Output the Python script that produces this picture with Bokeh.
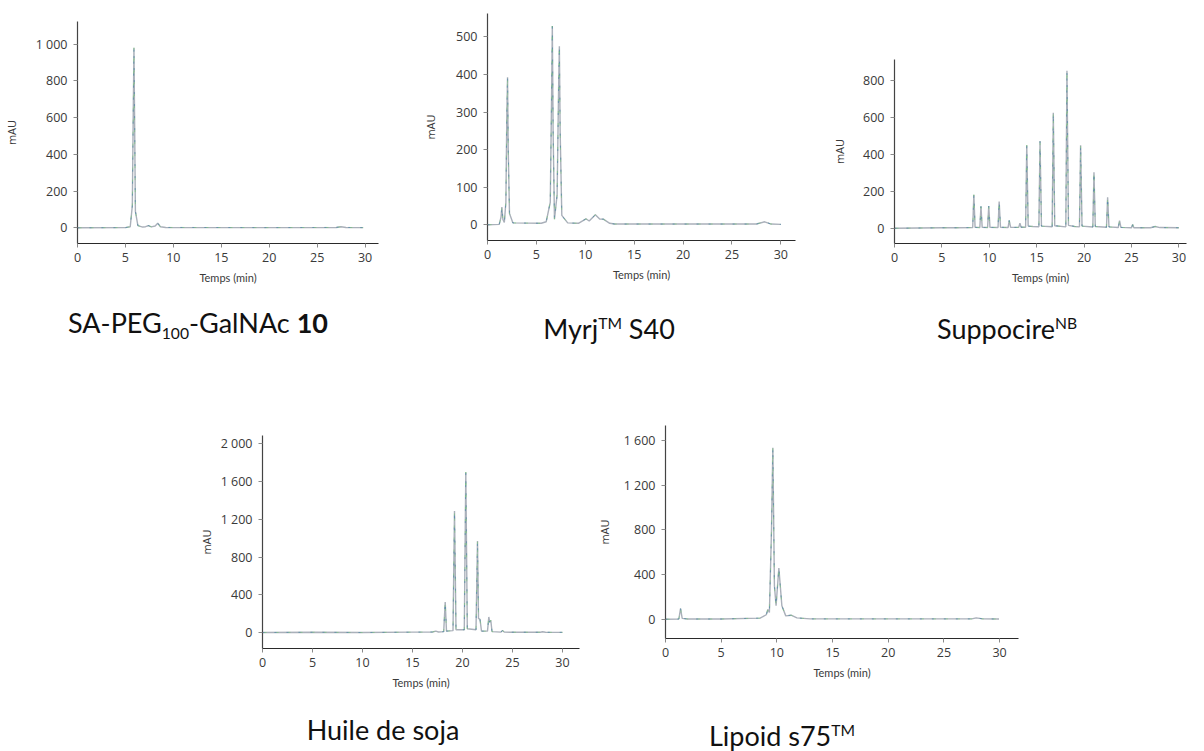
from bokeh.plotting import figure
from bokeh.models import Range1d, FixedTicker, Div, Spacer
from bokeh.layouts import row, column
from bokeh.embed import file_html
from bokeh.resources import INLINE

# ---------------- data ----------------
x_ticks = [0, 5, 10, 15, 20, 25, 30]

# SA-PEG100-GalNAc 10
t1 = [0, 5.0, 5.5, 5.72, 5.81, 5.89, 5.96, 6.04, 6.3, 6.8, 7.1, 7.4, 7.7, 8.1, 8.37, 8.65, 9.2, 20, 27.0, 27.5, 28.0, 29.8]
a1 = [0, 1, 6, 120, 600, 980, 560, 90, 12, 4, 6, 12, 5, 10, 25, 6, 2, 1, 2, 6, 2, 1]
y1_ticks = [0, 200, 400, 600, 800, 1000]
y1_labels = ["0", "200", "400", "600", "800", "1 000"]

# Myrj S40
t2 = [0, 1.2, 1.38, 1.47, 1.57, 1.72, 1.88, 1.98, 2.05, 2.12, 2.25, 2.6, 5.5, 6.0, 6.42, 6.55, 6.63, 6.71, 6.85, 7.12,
      7.27, 7.35, 7.43, 7.6, 8.2, 9.3, 10.07, 10.4, 11.03, 11.5, 11.85, 12.5, 13.0, 27.5, 28.35, 29.0, 30]
a2 = [0, 1, 20, 47, 15, 6, 60, 300, 393, 200, 30, 5, 4, 8, 60, 330, 529, 250, 15, 80,
      360, 475, 250, 25, 5, 4, 16, 10, 27, 15, 15, 4, 2, 2, 8, 2, 1]
y2_ticks = [0, 100, 200, 300, 400, 500]
y2_labels = ["0", "100", "200", "300", "400", "500"]

# Suppocire NB
t3 = [0, 5.0, 6.5, 8.25, 8.37, 8.5, 9.0, 9.12, 9.25, 9.82, 9.94, 10.07, 10.92, 11.04, 11.18, 11.98, 12.1, 12.25,
      13.1, 13.23, 13.36, 13.83, 13.95, 14.1, 14.6, 15.23, 15.35, 15.5, 16.63, 16.75, 16.9, 18.07, 18.19, 18.35,
      19.0, 19.51, 19.63, 19.78, 20.92, 21.04, 21.18, 22.36, 22.48, 22.62, 23.6, 23.74, 23.88, 25.0, 25.12, 25.25,
      27.0, 27.5, 28.0, 30.0]
a3 = [0, 3, 3, 4, 181, 5, 4, 118, 5, 4, 119, 5, 4, 145, 6, 4, 42, 5,
      5, 27, 6, 6, 448, 12, 10, 8, 470, 12, 8, 623, 14, 8, 850, 16,
      10, 8, 448, 12, 7, 303, 10, 6, 168, 8, 4, 42, 5, 3, 20, 3,
      3, 10, 4, 3]
y3_ticks = [0, 200, 400, 600, 800]
y3_labels = ["0", "200", "400", "600", "800"]

# Huile de soja
t4 = [0, 5.2, 10, 15, 17.0, 17.33, 17.6, 18.12, 18.27, 18.4, 19.05, 19.2, 19.35, 20.18, 20.33, 20.48, 21.35, 21.5,
      21.6, 21.75, 21.9, 22.5, 22.63, 22.72, 22.83, 22.95, 23.85, 24.0, 24.2, 27.8, 28.0, 28.3, 30.0]
a4 = [0, 3, 0, 4, 6, 15, 6, 10, 324, 15, 20, 1287, 30, 30, 1699, 40, 30, 969,
      150, 140, 15, 15, 165, 110, 130, 10, 5, 22, 4, 3, 8, 3, 2]
y4_ticks = [0, 400, 800, 1200, 1600, 2000]
y4_labels = ["0", "400", "800", "1 200", "1 600", "2 000"]

# Lipoid s75
t5 = [0, 1.2, 1.35, 1.5, 2.0, 5.0, 8.5, 9.05, 9.19, 9.33, 9.52, 9.64, 9.78, 9.93, 10.18, 10.45, 10.8, 11.28,
      11.8, 13.0, 27.5, 27.9, 28.5, 29.95]
a5 = [0, 2, 96, 8, 2, 2, 10, 40, 87, 60, 800, 1534, 300, 120, 458, 120, 30, 36,
      12, 3, 3, 12, 3, 2]
y5_ticks = [0, 400, 800, 1200, 1600]
y5_labels = ["0", "400", "800", "1 200", "1 600"]

x_label = "Temps (min)"
y_label = "mAU"
captions = [
    'SA-PEG<sub style="font-size:58%">100</sub>-GalNAc <b>10</b>',
    'Myrj<sup style="font-size:58%">TM</sup> S40',
    'Suppocire<sup style="font-size:58%">NB</sup>',
    'Huile de soja',
    'Lipoid s75<sup style="font-size:58%">TM</sup>',
]

TICK_FONT = "Open Sans"
CAP_FONT = "Lato"


def chart(t, a, yt, yl, x_end, y_rng, w, h, bl, br, bt, bb, ylab_standoff):
    p = figure(width=w, height=h, x_range=Range1d(0, x_end), y_range=Range1d(*y_rng),
               output_backend="svg", toolbar_location=None, title=None,
               min_border_left=bl, min_border_right=br, min_border_top=bt, min_border_bottom=bb)
    p.outline_line_color = None
    p.xgrid.visible = False
    p.ygrid.visible = False
    p.margin = 0
    p.line(t, a, color="#aab0ba", line_width=1.4)
    p.line(t, a, color="#5ccc5c", line_width=1, line_dash="4 8", line_alpha=0.45)
    p.line(t, a, color="#4a5cd4", line_width=1, line_dash="2 10", line_alpha=0.45)

    xa = p.xaxis[0]
    xa.ticker = FixedTicker(ticks=x_ticks)
    xa.axis_line_color = "#2a2a2a"
    xa.axis_line_width = 1.2
    xa.major_tick_out = 4
    xa.major_tick_in = 0
    xa.minor_tick_line_color = None
    xa.major_tick_line_color = "#8a8a8a"
    xa.major_label_text_font = TICK_FONT
    xa.major_label_text_font_size = "12.5px"
    xa.major_label_text_color = "#3a3a3a"
    xa.major_label_standoff = 5
    xa.axis_label = x_label
    xa.axis_label_text_font = CAP_FONT
    xa.axis_label_text_font_size = "11px"
    xa.axis_label_text_font_style = "normal"
    xa.axis_label_text_color = "#3a3a3a"
    xa.axis_label_standoff = 6

    ya = p.yaxis[0]
    ya.ticker = FixedTicker(ticks=yt)
    ya.major_label_overrides = {v: s for v, s in zip(yt, yl)}
    ya.axis_line_color = "#444444"
    ya.axis_line_width = 1.2
    ya.major_tick_out = 4
    ya.major_tick_in = 0
    ya.minor_tick_line_color = None
    ya.major_tick_line_color = "#8a8a8a"
    ya.major_label_text_font = TICK_FONT
    ya.major_label_text_font_size = "12.5px"
    ya.major_label_text_color = "#3a3a3a"
    ya.major_label_standoff = 6
    ya.axis_label = y_label
    ya.axis_label_text_font = TICK_FONT
    ya.axis_label_text_font_size = "11px"
    ya.axis_label_text_font_style = "normal"
    ya.axis_label_text_color = "#3a3a3a"
    ya.axis_label_standoff = ylab_standoff
    return p


def caption(html, w, h, line_h, pad_top):
    return Div(text=html, width=w, height=h, margin=0,
               styles={"font-family": CAP_FONT, "font-size": "27px", "color": "#111111",
                       "text-align": "center", "line-height": line_h, "padding-top": pad_top,
                       "white-space": "nowrap", "width": f"{w}px"})


def boxed(p):
    # wrap each plot in its own column so that frames are not aligned across a row
    return column(p, spacing=0, margin=0)


p1 = chart(t1, a1, y1_ticks, y1_labels, 31.4, (-85.5, 1123.6), 402, 292, 70, 24, 13, 57, 14)
p2 = chart(t2, a2, y2_ticks, y2_labels, 31.5, (-41.8, 562.4), 420, 292, 85, 27, 5, 60, 15)
p3 = chart(t3, a3, y3_ticks, y3_labels, 30.8, (-82, 911), 366, 292, 72, 2, 51, 57, 13)
p4 = chart(t4, a4, y4_ticks, y4_labels, 31.7, (-169, 2088), 405, 350, 75, 13, 85, 52, 4)
p5 = chart(t5, a5, y5_ticks, y5_labels, 31.7, (-172.5, 1733.7), 436, 350, 73, 10, 75, 62, 9)

rowA = row(boxed(p1), boxed(p2), boxed(p3), spacing=0)
rowB = row(Spacer(width=48, height=50), caption(captions[0], 300, 50, "46px", "0px"),
           Spacer(width=111, height=50), caption(captions[1], 300, 50, "46px", "0px"),
           Spacer(width=98, height=50), caption(captions[2], 300, 50, "46px", "0px"), spacing=0)
rowC = row(Spacer(width=187, height=350), boxed(p4), boxed(p5), spacing=0)
rowD = row(Spacer(width=233, height=40), caption(captions[3], 300, 40, "30px", "15px"),
           Spacer(width=99, height=40), caption(captions[4], 300, 40, "30px", "15px"), spacing=0)

layout = column(Spacer(width=10, height=8), rowA, rowB, rowC, rowD, spacing=0)

open("out.html", "w").write(file_html(layout, INLINE))
